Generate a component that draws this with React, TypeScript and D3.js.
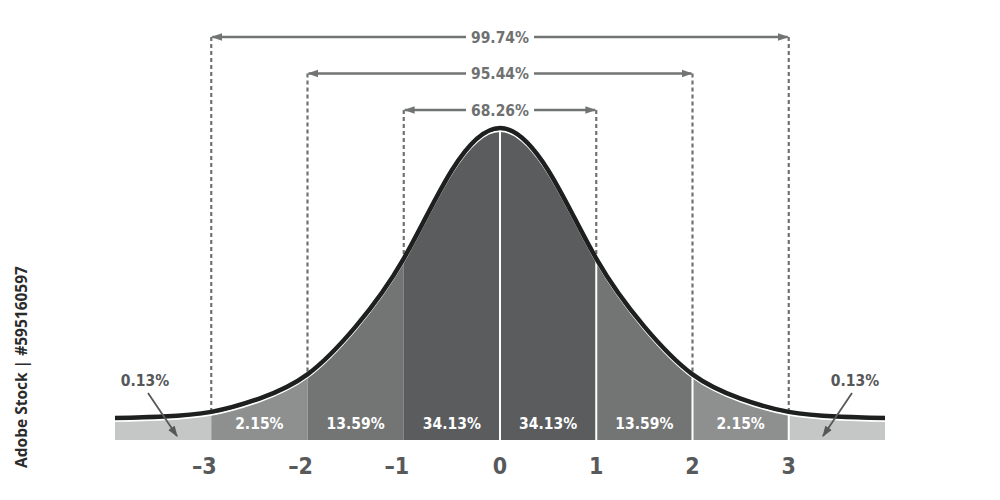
import React, { useEffect, useRef } from 'react';
import * as d3 from 'd3';

// curve (z in sigma units, height as density)
const zValues = [-4, -3.5, -3, -2.5, -2, -1.5, -1, -0.5, 0, 0.5, 1, 1.5, 2, 2.5, 3, 3.5, 4];
const density = [0.028, 0.030, 0.036, 0.053, 0.084, 0.145, 0.232, 0.345, 0.399, 0.345, 0.232, 0.145, 0.084, 0.053, 0.036, 0.030, 0.028];

const bandEdges = [-4, -3, -2, -1, 0, 1, 2, 3, 4];
const bandLabels = ['0.13%', '2.15%', '13.59%', '34.13%', '34.13%', '13.59%', '2.15%', '0.13%'];
const bandColors = ['#c5c7c7', '#8e9090', '#737575', '#5a5c5d', '#5a5c5d', '#737575', '#8e9090', '#c5c7c7'];

const spanSigmas = [1, 2, 3];
const spanLabels = ['68.26%', '95.44%', '99.74%'];

const tickValues = [-3, -2, -1, 0, 1, 2, 3];
const tickLabels = ['\u20133', '\u20132', '\u20131', '0', '1', '2', '3'];

const FONT = "'DejaVu Sans Condensed', 'DejaVu Sans', sans-serif";

export default function App() {
  const ref = useRef<SVGSVGElement>(null);

  useEffect(() => {
    const svg = d3.select(ref.current);
    svg.selectAll('*').remove();

    const x = d3.scaleLinear().domain([-4, 4]).range([115, 885]);
    const y = d3.scaleLinear().domain([0, 0.399]).range([440, 128]);
    const pts = zValues.map((z, i) => [z, density[i]] as [number, number]);

    const defs = svg.append('defs');
    const curve = d3.curveNatural;
    const area = d3.area<[number, number]>()
      .x(d => x(d[0]))
      .y0(y(0))
      .y1(d => y(d[1]))
      .curve(curve);
    const line = d3.line<[number, number]>()
      .x(d => x(d[0]))
      .y(d => y(d[1]))
      .curve(curve);

    defs.append('clipPath').attr('id', 'under')
      .append('path').attr('d', area(pts));

    const mk = (id: string, color: string, size: number) => {
      defs.append('marker')
        .attr('id', id)
        .attr('viewBox', '0 0 10 10')
        .attr('refX', 9).attr('refY', 5)
        .attr('markerWidth', size).attr('markerHeight', size)
        .attr('markerUnits', 'userSpaceOnUse')
        .attr('orient', 'auto-start-reverse')
        .append('path')
        .attr('d', 'M0,1.5 L10,5 L0,8.5 Z')
        .attr('fill', color);
    };
    mk('arr', '#727474', 11);
    mk('arrDark', '#555758', 11);

    // watermark caption
    svg.append('text')
      .attr('transform', 'translate(27,367) rotate(-90)')
      .attr('text-anchor', 'middle')
      .attr('font-family', "'Open Sans', sans-serif")
      .attr('font-weight', 700)
      .attr('font-size', 15.5)
      .attr('fill', '#2b2b2b')
      .text('Adobe Stock | #595160597');

    // shaded bands
    const g = svg.append('g').attr('clip-path', 'url(#under)');
    g.selectAll('rect')
      .data(bandColors)
      .enter()
      .append('rect')
      .attr('x', (d, i) => x(bandEdges[i]))
      .attr('width', (d, i) => x(bandEdges[i + 1]) - x(bandEdges[i]))
      .attr('y', 0)
      .attr('height', y(0))
      .attr('fill', d => d);

    g.selectAll('line')
      .data([0, 1, 2, 3])
      .enter()
      .append('line')
      .attr('x1', d => x(d)).attr('x2', d => x(d))
      .attr('y1', 0).attr('y2', y(0))
      .attr('stroke', '#fff')
      .attr('stroke-width', 2);

    // dashed guides and span arrows
    spanSigmas.forEach((s, i) => {
      const top = 110 - i * 36.5;
      [-s, s].forEach(z => {
        const yc = y(density[zValues.indexOf(z)]);
        svg.append('line')
          .attr('x1', x(z)).attr('x2', x(z))
          .attr('y1', top).attr('y2', yc)
          .attr('stroke', '#707272')
          .attr('stroke-width', 2.2)
          .attr('stroke-dasharray', '4,3');
      });
      const half = 34;
      svg.append('line')
        .attr('x1', 500 - half).attr('x2', x(-s) + 1)
        .attr('y1', top).attr('y2', top)
        .attr('stroke', '#727474').attr('stroke-width', 2.5)
        .attr('marker-end', 'url(#arr)');
      svg.append('line')
        .attr('x1', 500 + half).attr('x2', x(s) - 1)
        .attr('y1', top).attr('y2', top)
        .attr('stroke', '#727474').attr('stroke-width', 2.5)
        .attr('marker-end', 'url(#arr)');
      svg.append('text')
        .attr('x', 500).attr('y', top + 5.5)
        .attr('text-anchor', 'middle')
        .attr('font-family', FONT)
        .attr('font-stretch', 'condensed')
        .attr('font-weight', 'bold')
        .attr('font-size', 15.5)
        .attr('fill', '#6f7171')
        .text(spanLabels[i]);
    });

    // curve outline
    svg.append('path')
      .attr('d', line(pts))
      .attr('transform', 'translate(0,3)')
      .attr('fill', 'none')
      .attr('stroke', '#fff')
      .attr('stroke-width', 2);
    svg.append('path')
      .attr('d', line(pts))
      .attr('fill', 'none')
      .attr('stroke', '#1e1f1f')
      .attr('stroke-width', 4.5);

    // band labels
    svg.selectAll('.band-label')
      .data(bandLabels.slice(1, 7))
      .enter()
      .append('text')
      .attr('class', 'band-label')
      .attr('x', (d, i) => x((bandEdges[i + 1] + bandEdges[i + 2]) / 2))
      .attr('y', 429)
      .attr('text-anchor', 'middle')
      .attr('font-family', FONT)
      .attr('font-stretch', 'condensed')
      .attr('font-weight', 'bold')
      .attr('font-size', 15.5)
      .attr('fill', '#fff')
      .text(d => d);

    // tail labels with arrows
    [[-1, 0], [1, 7]].forEach(([side, idx]) => {
      const lx = 500 + side * 355;
      svg.append('text')
        .attr('x', lx).attr('y', 386)
        .attr('text-anchor', 'middle')
        .attr('font-family', FONT)
        .attr('font-stretch', 'condensed')
        .attr('font-weight', 'bold')
        .attr('font-size', 15.5)
        .attr('fill', '#555758')
        .text(bandLabels[idx]);
      svg.append('line')
        .attr('x1', lx - side * 3).attr('y1', 393)
        .attr('x2', lx - side * 32).attr('y2', 436)
        .attr('stroke', '#555758')
        .attr('stroke-width', 1.8)
        .attr('marker-end', 'url(#arrDark)');
    });

    // axis ticks
    svg.selectAll('.tick-label')
      .data(tickValues)
      .enter()
      .append('text')
      .attr('class', 'tick-label')
      .attr('x', d => x(d) - (d < 0 ? 7 : 0))
      .attr('y', 474)
      .attr('text-anchor', 'middle')
      .attr('font-family', FONT)
      .attr('font-stretch', 'condensed')
      .attr('font-weight', 'bold')
      .attr('font-size', 23)
      .attr('fill', '#58595a')
      .text((d, i) => tickLabels[i]);
  }, []);

  return (
    <svg ref={ref} width={1000} height={500}
      style={{ position: 'absolute', left: 0, top: 0, background: '#fff' }} />
  );
}
